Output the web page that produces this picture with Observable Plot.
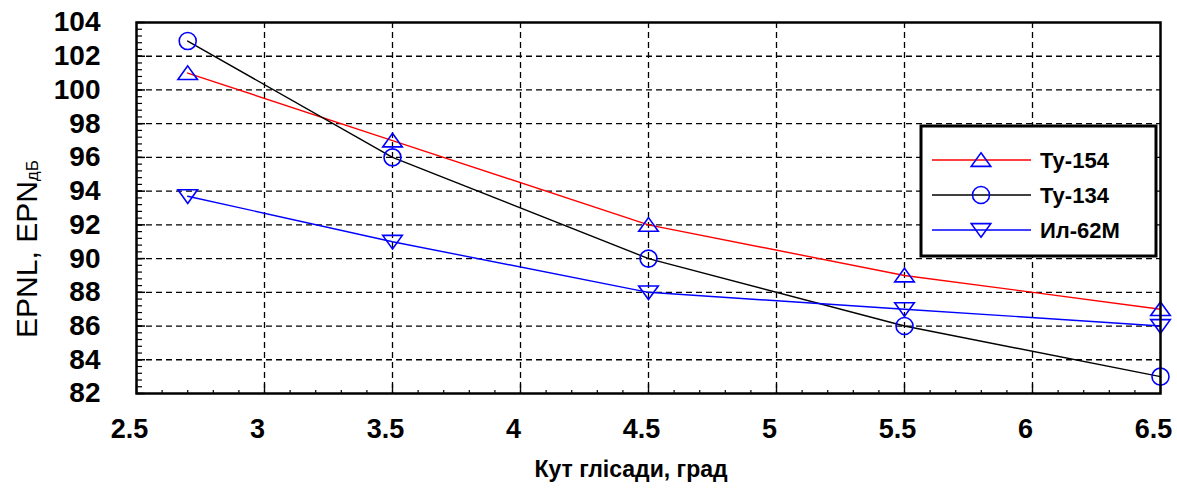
<!DOCTYPE html>
<html><head><meta charset="utf-8">
<script src="https://cdn.jsdelivr.net/npm/d3@7"></script>
<script src="https://cdn.jsdelivr.net/npm/@observablehq/plot@0.6"></script>
<style>
html,body{margin:0;padding:0;background:#fff;}
#chart{width:1177px;height:488px;font-family:"Liberation Sans",Arial,sans-serif;}
</style></head>
<body><div id="chart"></div>
<script>
// ---- data ----
const angles = [2.7, 3.5, 4.5, 5.5, 6.5];
const tu154 = [101, 97, 92, 89, 87];
const tu134 = [102.9, 96, 90, 86, 83];
const il62m = [93.7, 91, 88, 87, 86];
const seriesNames = ["Ту-154", "Ту-134", "Ил-62М"];
const seriesColors = ["#ff0000", "#000000", "#0000ff"];
const xTicks = [2.5, 3, 3.5, 4, 4.5, 5, 5.5, 6, 6.5];
const yTicks = [82, 84, 86, 88, 90, 92, 94, 96, 98, 100, 102, 104];
const xTitle = "Кут глісади, град";
const yTitleMain = "EPNL, EPN";
const yTitleSub = "дБ";

// ---- layout ----
const W = 1177, H = 488;
const mL = 136, mR = 17, mT = 22, mB = 95;
const plotW = W - mL - mR, plotH = H - mT - mB;

const seriesValues = [tu154, tu134, il62m];
const rows = [];
seriesNames.forEach((name, i) => angles.forEach((a, j) => rows.push({series: name, angle: a, epnl: seriesValues[i][j]})));

const xMinor = d3.range(25, 66).map(v => v / 10);
const yMinor = d3.range(0, 56).map(v => 82 + v * 0.4);

const triUp = {draw(ctx, size) {const k = Math.sqrt(size / Math.PI); ctx.moveTo(0, -0.85 * k); ctx.lineTo(1.15 * k, 0.75 * k); ctx.lineTo(-1.15 * k, 0.75 * k); ctx.closePath();}};
const triDown = {draw(ctx, size) {const k = Math.sqrt(size / Math.PI); ctx.moveTo(0, 0.85 * k); ctx.lineTo(1.15 * k, -0.75 * k); ctx.lineTo(-1.15 * k, -0.75 * k); ctx.closePath();}};
const circ = {draw(ctx, size) {const k = Math.sqrt(size / Math.PI); ctx.moveTo(k, 0); ctx.arc(0, 0, k, 0, 2 * Math.PI);}};
const symbols = [triUp, circ, triDown];
const R = 8.5;

const fmt = d => String(d);

const plot = Plot.plot({
  width: W, height: H,
  marginLeft: mL, marginRight: mR, marginTop: mT, marginBottom: mB,
  style: {fontFamily: "'Liberation Sans', Arial, sans-serif", background: "#fff", color: "#000"},
  x: {domain: [2.5, 6.5], axis: null},
  y: {domain: [82, 104], axis: null},
  color: {domain: seriesNames, range: seriesColors},
  symbol: {domain: seriesNames, range: symbols},
  marks: [
    Plot.ruleX(xTicks.slice(1, -1), {stroke: "#000", strokeWidth: 1.3, strokeDasharray: "6,4"}),
    Plot.ruleY(yTicks.slice(1, -1), {stroke: "#000", strokeWidth: 1.3, strokeDasharray: "6,4"}),
    Plot.tickY(yMinor, {y: d => d, stroke: "#000", strokeWidth: 1.2, insetRight: plotW - 6}),
    Plot.tickY(yTicks, {y: d => d, stroke: "#000", strokeWidth: 1.5, insetRight: plotW - 9}),
    Plot.tickX(xMinor, {x: d => d, stroke: "#000", strokeWidth: 1.2, insetTop: plotH - 3}),
    Plot.tickX(xTicks, {x: d => d, stroke: "#000", strokeWidth: 1.3, insetTop: plotH - 9}),
    Plot.line(rows, {x: "angle", y: "epnl", z: "series", stroke: "series", strokeWidth: 1.4}),
    Plot.dot(rows, {x: "angle", y: "epnl", symbol: "series", r: R, stroke: "#0000ff", strokeWidth: 1.6, fill: "none"}),
    Plot.frame({stroke: "#000", strokeWidth: 2.5}),
    Plot.axisX({ticks: xTicks, tickFormat: fmt, tickSize: 0, tickPadding: 25, dx: -7, fontSize: 27, fontWeight: "bold", label: null}),
    Plot.axisY({ticks: yTicks, tickFormat: fmt, tickSize: 0, tickPadding: 36, fontSize: 28, fontWeight: "bold", label: null})
  ]
});
document.getElementById("chart").appendChild(plot);

// ---- titles & legend ----
const svg = d3.select(plot);
const ff = "'Liberation Sans', Arial, sans-serif";
const yt = svg.append("text").attr("transform", "translate(37,249) rotate(-90)")
  .attr("text-anchor", "middle").attr("font-family", ff).attr("font-size", 30).attr("fill", "#000");
yt.append("tspan").text(yTitleMain);
yt.append("tspan").attr("font-size", 17).attr("dy", 1).text(yTitleSub);

svg.append("text").attr("x", 631).attr("y", 477).attr("text-anchor", "middle")
  .attr("font-family", ff).attr("font-size", 23).attr("font-weight", "bold").attr("fill", "#000").text(xTitle);

const lg = svg.append("g");
lg.append("rect").attr("x", 921).attr("y", 126).attr("width", 235).attr("height", 130)
  .attr("fill", "#fff").attr("stroke", "#000").attr("stroke-width", 3);
const rowY = [160, 195, 230];
seriesNames.forEach((name, i) => {
  lg.append("line").attr("x1", 932).attr("x2", 1031).attr("y1", rowY[i]).attr("y2", rowY[i])
    .attr("stroke", seriesColors[i]).attr("stroke-width", 1.4);
  lg.append("path").attr("transform", `translate(981,${rowY[i]})`)
    .attr("d", d3.symbol().type(symbols[i]).size(Math.PI * R * R)())
    .attr("fill", "none").attr("stroke", "#0000ff").attr("stroke-width", 1.6);
  lg.append("text").attr("x", 1040).attr("y", rowY[i] + 8).attr("text-anchor", "start").attr("font-family", ff)
    .attr("font-size", 22).attr("font-weight", "bold").attr("fill", "#000").text(name);
});
</script>
</body></html>
